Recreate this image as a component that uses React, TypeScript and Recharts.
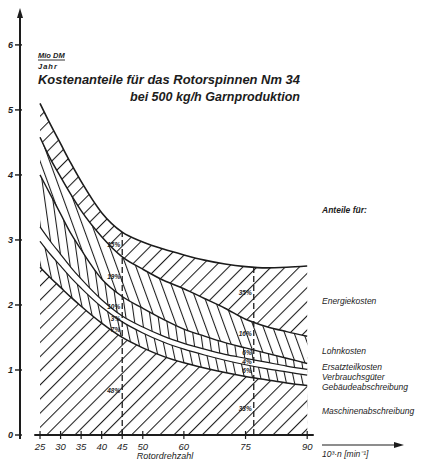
import React from 'react';
import { ComposedChart, Area, XAxis, YAxis, ReferenceLine, ReferenceDot } from 'recharts';

// Rotordrehzahl in 10^3 min^-1
const speed = [25, 27.5, 30, 32.5, 35, 40, 45, 50, 55, 60, 65, 70, 75, 80, 85, 90];
// cumulative upper edge of each band (Mio DM / Jahr)
const energie = [5.1, 4.78, 4.48, 4.18, 3.9, 3.42, 3.12, 2.97, 2.86, 2.77, 2.69, 2.63, 2.59, 2.57, 2.58, 2.6];
const lohn = [4.58, 4.25, 3.97, 3.7, 3.45, 3.05, 2.74, 2.55, 2.38, 2.25, 2.1, 1.95, 1.78, 1.67, 1.59, 1.52];
const ersatz = [4.0, 3.7, 3.4, 3.1, 2.85, 2.4, 2.13, 1.95, 1.78, 1.63, 1.52, 1.42, 1.34, 1.26, 1.18, 1.1];
const verbrauch = [3.2, 2.98, 2.78, 2.58, 2.4, 2.08, 1.83, 1.66, 1.52, 1.41, 1.32, 1.24, 1.18, 1.12, 1.06, 1.01];
const gebaeude = [2.98, 2.78, 2.6, 2.42, 2.26, 1.97, 1.74, 1.57, 1.43, 1.32, 1.23, 1.15, 1.08, 1.02, 0.97, 0.92];
const maschinen = [2.58, 2.42, 2.27, 2.12, 1.98, 1.72, 1.5, 1.34, 1.21, 1.11, 1.03, 0.96, 0.9, 0.85, 0.8, 0.76];

const xTicks = [25, 30, 35, 40, 45, 50, 60, 75, 90];
const yTicks = [0, 1, 2, 3, 4, 5, 6];

// dashed marker lines and the shares written next to them (top band first)
const markerX = [45, 77];
const markerTop = [3.12, 2.58];
const shares45 = ['15%', '19%', '10%', '3%', '7%', '48%'];
const shares77 = ['35%', '16%', '6%', '4%', '6%', '33%'];

const legendNames = ['Energiekosten', 'Lohnkosten', 'Ersatzteilkosten', 'Verbrauchsgüter', 'Gebäudeabschreibung', 'Maschinenabschreibung'];

const data = speed.map((x, i) => ({
  x,
  energie: energie[i],
  lohn: lohn[i],
  ersatz: ersatz[i],
  verbrauch: verbrauch[i],
  gebaeude: gebaeude[i],
  maschinen: maschinen[i],
}));

const INK = '#1c1c1c';
const FONT = '"Liberation Sans", Arial, sans-serif';
const X_MIN = 20.13;
const Y_MAX = 6.46;

function bandMids(row: any) {
  return [
    (row.energie + row.lohn) / 2,
    (row.lohn + row.ersatz) / 2,
    (row.ersatz + row.verbrauch) / 2,
    (row.verbrauch + row.gebaeude) / 2,
    (row.gebaeude + row.maschinen) / 2,
    row.maschinen * 0.45,
  ];
}

const Hatch = ({ id, angle, gap }: { id: string; angle: number; gap: number }) => (
  <pattern id={id} patternUnits="userSpaceOnUse" width={gap} height={10} patternTransform={`rotate(${angle})`}>
    <rect width={gap} height={10} fill="#fff" />
    <line x1={0.5} y1={0} x2={0.5} y2={10} stroke={INK} strokeWidth={1.1} />
  </pattern>
);

const YTick = (props: any) => {
  const { x, y, payload } = props;
  return (
    <g>
      <rect x={x - 1} y={y - 0.7} width={7} height={1.4} fill={INK} />
      <text x={x - 3} y={y + 3} textAnchor="end" fontSize={9} fontStyle="italic" fontWeight="bold" fontFamily={FONT} fill={INK}>
        {payload.value}
      </text>
    </g>
  );
};

const XTick = (props: any) => {
  const { x, payload } = props;
  return (
    <g>
      <rect x={x - 0.6} y={431} width={1.2} height={8} fill={INK} />
      <text x={x} y={450} textAnchor="middle" fontSize={9.5} fontStyle="italic" fontFamily={FONT} fill={INK}>
        {payload.value}
      </text>
    </g>
  );
};

export default function App() {
  const row45 = data.find((d) => d.x === 45);
  const row75 = data.find((d) => d.x === 75);
  const mids45 = bandMids(row45);
  const mids77 = bandMids(row75);
  const label = (v: string) => ({ value: v, position: 'left' as const, offset: 2, fontSize: 6.5, fontWeight: 'bold', fontStyle: 'italic', fill: INK, fontFamily: FONT });

  return (
    <div style={{ position: 'absolute', left: 0, top: 0, width: 443, height: 461, background: '#fff', overflow: 'hidden' }}>
      <ComposedChart width={443} height={461} data={data} margin={{ top: 15, left: 0, right: 128, bottom: 0 }}>
        <defs>
          <Hatch id="hEnergie" angle={45} gap={10} />
          <Hatch id="hLohn" angle={-20} gap={9} />
          <Hatch id="hErsatz" angle={-8} gap={8} />
          <Hatch id="hGebaeude" angle={-12} gap={8} />
          <Hatch id="hMasch" angle={45} gap={10} />
        </defs>
        <XAxis
          dataKey="x"
          type="number"
          domain={[X_MIN, 91.9]}
          ticks={xTicks}
          interval={0}
          height={26}
          axisLine={false}
          tickLine={false}
          tick={<XTick />}
          allowDataOverflow
        />
        <YAxis
          type="number"
          domain={[0, Y_MAX]}
          ticks={yTicks}
          interval={0}
          width={20}
          tickSize={4}
          tickMargin={0}
          axisLine={false}
          tickLine={false}
          tick={<YTick />}
          allowDataOverflow
        />
        <Area type="monotone" dataKey="energie" stroke={INK} strokeWidth={1.6} fill="url(#hEnergie)" fillOpacity={1} dot={false} activeDot={false} isAnimationActive={false} />
        <Area type="monotone" dataKey="lohn" stroke={INK} strokeWidth={1.5} fill="url(#hLohn)" fillOpacity={1} dot={false} activeDot={false} isAnimationActive={false} />
        <Area type="monotone" dataKey="ersatz" stroke={INK} strokeWidth={1.4} fill="url(#hErsatz)" fillOpacity={1} dot={false} activeDot={false} isAnimationActive={false} />
        <Area type="monotone" dataKey="verbrauch" stroke={INK} strokeWidth={1.2} fill="#fff" fillOpacity={1} dot={false} activeDot={false} isAnimationActive={false} />
        <Area type="monotone" dataKey="gebaeude" stroke={INK} strokeWidth={1.2} fill="url(#hGebaeude)" fillOpacity={1} dot={false} activeDot={false} isAnimationActive={false} />
        <Area type="monotone" dataKey="maschinen" stroke={INK} strokeWidth={1.5} fill="url(#hMasch)" fillOpacity={1} dot={false} activeDot={false} isAnimationActive={false} />
        {markerX.map((mx, i) => (
          <ReferenceLine key={mx} segment={[{ x: mx, y: 0 }, { x: mx, y: markerTop[i] }]} stroke={INK} strokeWidth={1.3} strokeDasharray="6 3" />
        ))}
        <ReferenceLine segment={[{ x: 23.6, y: 0 }, { x: 91.6, y: 0 }]} stroke={INK} strokeWidth={2} />
        {shares45.map((s, i) => (
          <ReferenceDot key={'a' + i} x={45} y={mids45[i]} r={0} fill="none" stroke="none" label={label(s)} />
        ))}
        {shares77.map((s, i) => (
          <ReferenceDot key={'b' + i} x={77} y={mids77[i]} r={0} fill="none" stroke="none" label={label(s)} />
        ))}
      </ComposedChart>
      <svg width={443} height={461} style={{ position: 'absolute', left: 0, top: 0, pointerEvents: 'none' }} fontFamily={FONT} fill={INK}>
        {/* value axis with arrow */}
        <rect x={19} y={15} width={2} height={424} fill={INK} />
        <path d="M20 8 L17 18 L23 18 Z" fill={INK} />
        <text x={38} y={58} fontSize={7.5} fontStyle="italic" fontWeight="bold">Mio DM</text>
        <line x1={38} y1={60} x2={65} y2={60} stroke={INK} strokeWidth={0.9} />
        <text x={38} y={69} fontSize={7.5} fontStyle="italic" fontWeight="bold" letterSpacing={1}>Jahr</text>
        <text x={38} y={84} fontSize={12} fontStyle="italic" fontWeight="bold" textLength={262} lengthAdjust="spacingAndGlyphs">Kostenanteile  für das Rotorspinnen Nm 34</text>
        <text x={130} y={101} fontSize={12} fontStyle="italic" fontWeight="bold" textLength={170} lengthAdjust="spacingAndGlyphs">bei 500 kg/h Garnproduktion</text>
        <text x={322} y={213} fontSize={8.5} fontStyle="italic" fontWeight="bold">Anteile für:</text>
        <text x={322} y={304} fontSize={8.5} fontStyle="italic">{legendNames[0]}</text>
        <text x={322} y={354} fontSize={8.5} fontStyle="italic">{legendNames[1]}</text>
        <text x={322} y={370} fontSize={8.5} fontStyle="italic">{legendNames[2]}</text>
        <text x={322} y={380} fontSize={8.5} fontStyle="italic">{legendNames[3]}</text>
        <text x={322} y={390} fontSize={8.5} fontStyle="italic">{legendNames[4]}</text>
        <text x={322} y={414} fontSize={8.5} fontStyle="italic">{legendNames[5]}</text>
        <line x1={322} y1={445} x2={396} y2={445} stroke={INK} strokeWidth={1.2} />
        <path d="M404 445 L394 442 L394 448 Z" fill={INK} />
        <text x={322} y={457} fontSize={8.5} fontStyle="italic">10³·n [min⁻¹]</text>
        <text x={165} y={459} fontSize={9} fontStyle="italic" textAnchor="middle">Rotordrehzahl</text>
      </svg>
    </div>
  );
}
